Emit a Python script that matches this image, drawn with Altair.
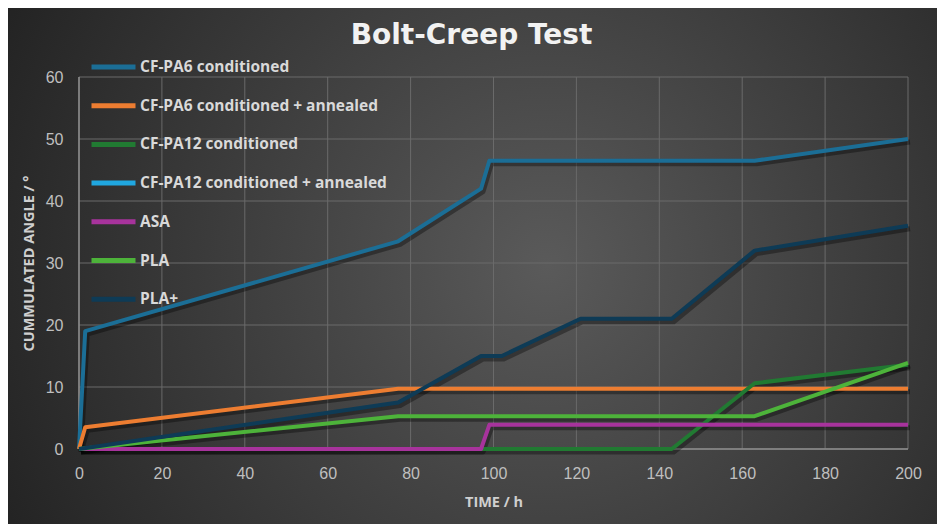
import altair as alt
import pandas as pd

# series in legend order
series_names = [
    "CF-PA6 conditioned",
    "CF-PA6 conditioned + annealed",
    "CF-PA12 conditioned",
    "CF-PA12 conditioned + annealed",
    "ASA",
    "PLA",
    "PLA+",
]
series_colors = ["#1b6e96", "#ed7d31", "#217a32", "#20a7e0", "#a7339c", "#4db33a", "#0e3b56"]

# time (h) / cumulated angle (deg)
pa6_time = [0, 1.5, 77, 97, 99, 163, 200]
pa6_angle = [0, 19, 33.5, 42, 46.5, 46.5, 50]
pa6_ann_time = [0, 1.5, 77, 200]
pa6_ann_angle = [0, 3.5, 9.7, 9.7]
pa12_time = [0, 143, 163, 200]
pa12_angle = [0, 0, 10.6, 13.6]
pa12_ann_time = []
pa12_ann_angle = []
asa_time = [0, 97, 99, 200]
asa_angle = [0, 0, 3.9, 3.9]
pla_time = [0, 77, 163, 200]
pla_angle = [0, 5.3, 5.3, 13.9]
plap_time = [0, 77, 97, 102, 121, 143, 163, 200]
plap_angle = [0, 7.5, 15, 15, 21, 21, 32, 36]

x_ticks = list(range(0, 201, 20))
y_ticks = list(range(0, 61, 10))

all_time = [pa6_time, pa6_ann_time, pa12_time, pa12_ann_time, asa_time, pla_time, plap_time]
all_angle = [pa6_angle, pa6_ann_angle, pa12_angle, pa12_ann_angle, asa_angle, pla_angle, plap_angle]

rows = []
for name, ts, ags in zip(series_names, all_time, all_angle):
    for t, a in zip(ts, ags):
        rows.append({"series": name, "time": t, "angle": a})
df = pd.DataFrame(rows)

W, H = 829, 372
PAD = {"left": 71, "top": 69, "right": 29, "bottom": 75}

x_enc = alt.X("time:Q", scale=alt.Scale(domain=[0, 200], nice=False),
              axis=alt.Axis(values=x_ticks, title="TIME / h", zindex=1))
y_enc = alt.Y("angle:Q", scale=alt.Scale(domain=[0, 60], nice=False),
              axis=alt.Axis(values=y_ticks, title="CUMMULATED ANGLE / °", zindex=1))
color_enc = alt.Color(
    "series:N",
    scale=alt.Scale(domain=series_names, range=series_colors),
    legend=alt.Legend(
        title=None, orient="none", legendX=10, legendY=-20,
        symbolType="stroke", symbolSize=1936, symbolStrokeWidth=5,
        clipHeight=20, rowPadding=18.7, padding=0, labelOffset=2,
        labelFont="Open Sans", labelFontWeight="bold", labelFontSize=15.5,
        labelColor="#d9d9d9", labelLimit=400,
    ),
)

# radial backdrop behind the whole chart
backdrop = alt.Chart(pd.DataFrame({"k": [0]})).mark_rect(
    fill={
        "gradient": "radial",
        "x1": 0.58, "y1": 0.5, "x2": 0.58, "y2": 0.5, "r1": 0, "r2": 0.72,
        "stops": [{"offset": 0, "color": "#5a5a5a"}, {"offset": 1, "color": "#1d1d1d"}],
    }
).encode(
    x=alt.value(-PAD["left"]), x2=alt.value(W + PAD["right"]),
    y=alt.value(-PAD["top"]), y2=alt.value(H + PAD["bottom"]),
)

# grid drawn as rules so it sits above the backdrop but under the lines
grid_x = alt.Chart(pd.DataFrame({"time": x_ticks})).mark_rule(
    color="#6a6a6a", strokeWidth=1).encode(x=x_enc)
grid_y = alt.Chart(pd.DataFrame({"angle": y_ticks})).mark_rule(
    color="#6a6a6a", strokeWidth=1).encode(y=y_enc)
dom_x = alt.Chart(pd.DataFrame({"angle": [0]})).mark_rule(
    color="#8c8c8c", strokeWidth=1.5).encode(y=y_enc)
dom_y = alt.Chart(pd.DataFrame({"time": [0]})).mark_rule(
    color="#8c8c8c", strokeWidth=1.5).encode(x=x_enc)

shadow = alt.Chart(df).mark_line(
    color="black", opacity=0.35, strokeWidth=5, xOffset=2, yOffset=3, strokeJoin="round"
).encode(x=x_enc, y=y_enc, detail="series:N")

layers = [backdrop, grid_x, grid_y, dom_x, dom_y, shadow]
for name in series_names:
    if (df["series"] == name).any():
        layers.append(
            alt.Chart(df)
            .transform_filter(alt.FieldEqualPredicate(field="series", equal=name))
            .mark_line(strokeWidth=4, strokeJoin="round")
            .encode(x=x_enc, y=y_enc, color=color_enc)
        )

chart = alt.layer(*layers).properties(
    width=W, height=H,
    autosize=alt.AutoSizeParams(type="none"),
    padding=PAD,
    background="#2a2a2a",
    title=alt.TitleParams(
        "Bolt-Creep Test", font="DejaVu Sans", fontSize=28, fontWeight="bold",
        color="#f2f2f2", anchor="middle", frame="group", offset=-42, dx=-22,
    ),
).configure_view(stroke=None).configure_axis(
    labelFont="Liberation Sans", labelFontSize=16, labelColor="#bfbfbf",
    titleFont="Open Sans", titleFontSize=14.5, titleFontWeight="bold", titleColor="#cfcfcf",
    grid=False, domain=False, ticks=False, tickSize=0, labelPadding=16,
).configure_axisX(titlePadding=14, labelFlush=False).configure_axisY(titlePadding=9)

chart.save("out.html", embed_options={"renderer": "svg", "actions": False})
